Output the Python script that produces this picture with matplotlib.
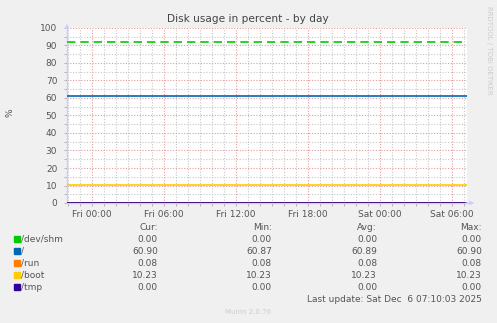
import matplotlib
matplotlib.use("Agg")
import matplotlib.pyplot as plt
from matplotlib.ticker import MultipleLocator

# hours relative to Fri 00:00
t_start = -2.083
t_end = 31.25
times = [t_start, t_end]

labels = ["/dev/shm", "/", "/run", "/boot", "/tmp"]
colors = ["#00CC00", "#0066B3", "#FF8000", "#FFCC00", "#330099"]
values = [[0.0, 0.0], [60.90, 60.90], [0.08, 0.08], [10.23, 10.23], [0.0, 0.0]]
cur = ["0.00", "60.90", "0.08", "10.23", "0.00"]
mins = ["0.00", "60.87", "0.08", "10.23", "0.00"]
avgs = ["0.00", "60.89", "0.08", "10.23", "0.00"]
maxs = ["0.00", "60.90", "0.08", "10.23", "0.00"]
warn_level = 92
warn_times = [t_start, 30.8]

xticks = [0, 6, 12, 18, 24, 30]
xticklabels = ["Fri 00:00", "Fri 06:00", "Fri 12:00", "Fri 18:00", "Sat 00:00", "Sat 06:00"]

W, H = 497, 323
fig = plt.figure(figsize=(W / 100, H / 100), dpi=100, facecolor="#F0F0F0")
ax = fig.add_axes([67 / W, (H - 203) / H, 400 / W, 175 / H])
ax.set_facecolor("white")

txt = "#555555"

for lab, col, v in zip(labels, colors, values):
    ax.plot(times, v, color=col, lw=1.2, zorder=3)
ax.plot(warn_times, [warn_level, warn_level], color="#00CC00", lw=1.2,
        ls=(0, (5, 3)), zorder=3)

ax.set_xlim(t_start, t_end)
ax.set_ylim(0, 100)
ax.set_xticks(xticks)
ax.set_xticklabels(xticklabels)
ax.xaxis.set_minor_locator(MultipleLocator(1))
ax.set_yticks(range(0, 101, 10))
ax.yaxis.set_minor_locator(MultipleLocator(5))

ax.grid(which="minor", color="#C8C8C8", ls=(0, (1, 1.5)), lw=0.8)
ax.grid(which="major", color="#E39A9A", ls=(0, (1, 1.5)), lw=0.8)
ax.set_axisbelow(True)

ax.tick_params(which="both", colors="#AAAAAA", labelcolor=txt, labelsize=6.5,
               length=2, width=0.6)
ax.tick_params(axis="y", pad=5)
ax.tick_params(axis="x", pad=3)

for s in ["top", "right"]:
    ax.spines[s].set_visible(False)
for s in ["left", "bottom"]:
    ax.spines[s].set_color("#CCCCFF")
    ax.spines[s].set_linewidth(1)

# axis arrows
ax.annotate("", xy=(0, 1.04), xycoords="axes fraction", xytext=(0, 0.99),
            arrowprops=dict(arrowstyle="-|>", color="#CCCCFF", lw=0.8,
                            mutation_scale=6), annotation_clip=False)
ax.annotate("", xy=(1.025, 0), xycoords="axes fraction", xytext=(0.99, 0),
            arrowprops=dict(arrowstyle="-|>", color="#CCCCFF", lw=0.8,
                            mutation_scale=6), annotation_clip=False)

def px(x, y):
    return x / W, 1 - y / H

fig.text(*px(248, 19), "Disk usage in percent - by day", ha="center", va="center",
         fontsize=7.6, color="#444444")
fig.text(*px(10, 113), "%", ha="center", va="center", rotation=90,
         fontsize=6.5, color=txt)
fig.text(*px(489, 50), "RRDTOOL / TOBI OETIKER", ha="center", va="center",
         rotation=270, fontsize=5, color="#CCCCCC")

# legend
col_x = [158, 272, 377, 482]
heads = ["Cur:", "Min:", "Avg:", "Max:"]
for x, h in zip(col_x, heads):
    fig.text(*px(x, 227), h, ha="right", va="center", fontsize=6.5, color=txt)

row_y = [239, 251, 263, 275, 287]
for i, (lab, col) in enumerate(zip(labels, colors)):
    y = row_y[i]
    fig.patches.append(plt.Rectangle(px(14, y + 3), 6 / W, 6 / H, color=col,
                                     transform=fig.transFigure, figure=fig))
    fig.text(*px(21, y), lab, ha="left", va="center", fontsize=6.5, color=txt)
    for x, vals in zip(col_x, [cur, mins, avgs, maxs]):
        fig.text(*px(x, y), vals[i], ha="right", va="center", fontsize=6.5, color=txt)

fig.text(*px(482, 299), "Last update: Sat Dec  6 07:10:03 2025", ha="right",
         va="center", fontsize=6.5, color=txt)
fig.text(*px(248, 312), "Munin 2.0.76", ha="center", va="center",
         fontsize=5, color="#CCCCCC")

fig.savefig("out.png", dpi=100, facecolor=fig.get_facecolor())
